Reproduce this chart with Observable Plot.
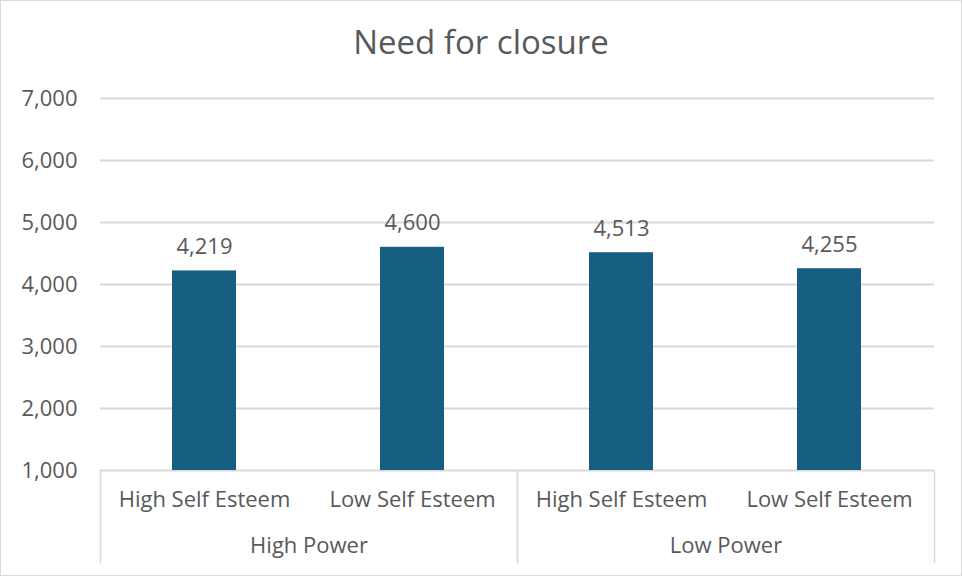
<!DOCTYPE html>
<html>
<head>
<meta charset="utf-8">
<script src="https://cdn.jsdelivr.net/npm/d3@7"></script>
<script src="https://cdn.jsdelivr.net/npm/@observablehq/plot@0.6"></script>
<style>
  html, body { margin: 0; padding: 0; background: #fff; }
  #chart {
    position: relative;
    width: 962px;
    height: 576px;
    box-sizing: border-box;
    border: 1px solid #d9d9d9;
    font-family: "Open Sans", sans-serif;
    color: #595959;
  }
  #title {
    position: absolute;
    top: 22px;
    left: 0;
    width: 960px;
    text-align: center;
    font-family: "Open Sans", sans-serif;
    font-size: 33px;
    line-height: 38px;
    color: #595959;
  }
  #plot {
    position: absolute;
    top: 79px;
    left: 0;
    width: 960px;
    height: 494px;
  }
</style>
</head>
<body>
<div id="chart">
  <div id="title">Need for closure</div>
  <div id="plot"></div>
</div>
<script>
// Groups, sub-groups and mean scores for each bar
const powerGroups = ["High Power", "High Power", "Low Power", "Low Power"];
const esteemLevels = ["High Self Esteem", "Low Self Esteem", "High Self Esteem", "Low Self Esteem"];
const closureScores = [4219, 4600, 4513, 4255];
const yTicks = [1000, 2000, 3000, 4000, 5000, 6000, 7000];

const rows = closureScores.map((score, i) => ({
  power: powerGroups[i],
  esteem: esteemLevels[i],
  score
}));

const fmt = d3.format(",");
const ink = "#595959";
const rule = "#d9d9d9";
const barFill = "#156082";
const yBase = yTicks[0];
const fontSize = 22;

const width = 960, height = 494;
const marginTop = 18, marginBottom = 104, marginLeft = 99, marginRight = 27;
const innerHeight = height - marginTop - marginBottom;

const chart = Plot.plot({
  width, height, marginTop, marginBottom, marginLeft, marginRight,
  style: { fontFamily: "'Open Sans', sans-serif", fontSize: `${fontSize}px`, color: ink, background: "#fff", overflow: "visible" },
  fx: { domain: [...new Set(powerGroups)], padding: 0 },
  x: { domain: [...new Set(esteemLevels)], paddingInner: 0.69, paddingOuter: 0.345 },
  y: { domain: [yTicks[0], yTicks[yTicks.length - 1]] },
  marks: [
    Plot.gridY(yTicks, { stroke: rule, strokeOpacity: 1, strokeWidth: 2 }),
    // category separators running down through the two label rows
    Plot.frame({ anchor: "left", stroke: rule, strokeWidth: 1.5, insetTop: innerHeight, insetBottom: -92 }),
    Plot.frame({ anchor: "right", stroke: rule, strokeWidth: 1.5, insetTop: innerHeight, insetBottom: -92 }),
    Plot.barY(rows, { fx: "power", x: "esteem", y1: yBase, y2: "score", fill: barFill }),
    Plot.text(rows, {
      fx: "power", x: "esteem", y: "score",
      text: d => fmt(d.score),
      lineAnchor: "bottom", dy: -17,
      fill: ink, fontSize
    }),
    Plot.axisY(yTicks, {
      tickSize: 0, tickPadding: 23, tickFormat: fmt,
      fontSize, fill: ink, label: null
    }),
    Plot.axisX({ tickSize: 0, tickPadding: 21, fontSize, fill: ink, label: null }),
    Plot.axisFx({ anchor: "bottom", tickSize: 0, tickPadding: 67, fontSize, fill: ink, label: null })
  ]
});

document.getElementById("plot").appendChild(chart);
</script>
</body>
</html>
